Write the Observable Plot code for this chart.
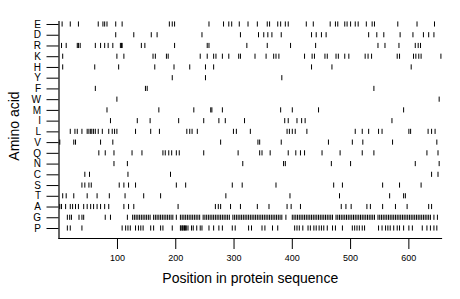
<!DOCTYPE html>
<html>
<head>
<meta charset="utf-8">
<script src="https://cdn.jsdelivr.net/npm/d3@7"></script>
<script src="https://cdn.jsdelivr.net/npm/@observablehq/plot@0.6"></script>
<style>
  html, body { margin: 0; padding: 0; background: #fff; overflow: hidden; }
  #chart { width: 460px; height: 299px; }
</style>
</head>
<body>
<div id="chart"></div>
<script>
// Categories (top to bottom)
const aminoAcids = ["E","D","R","K","H","Y","F","W","M","I","L","V","Q","N","C","S","T","A","G","P"];
const xTicks = [100, 200, 300, 400, 500, 600];
const seqLength = 656;

// Positions of each amino acid in the protein sequence
const posE = [5,19,33,67,75,78,82,97,108,189,194,198,257,282,291,296,309,324,340,357,361,375,380,388,393,424,436,465,474,478,490,494,500,508,513,527,537,541,581,614,644];
const posD = [97,128,158,168,245,311,342,351,358,365,381,433,441,450,458,531,545,557,585,607,625,634,643];
const posR = [4,12,31,33,36,62,71,78,84,92,105,107,108,141,147,198,254,257,322,357,397,440,547,559,583,611,616,620];
const posK = [6,99,111,161,165,184,187,242,254,265,269,280,291,308,311,336,355,368,372,377,421,434,438,456,460,475,479,490,497,525,530,536,580,584,608,612,617,621,655];
const posH = [6,61,102,164,197,224,251,265,433,468,604];
const posY = [194,251,382];
const posF = [62,148,151,540];
const posW = [99,652];
const posM = [82,171,231,260,262,280,380,400,445,591];
const posI = [88,134,156,205,248,274,285,318,387,393,408,416,422,571];
const posL = [19,27,31,39,48,51,54,56,59,62,67,74,85,91,95,99,131,157,172,219,224,228,237,299,304,328,391,395,400,405,425,508,520,531,548,554,600,603,633,639,645];
const posV = [1,25,28,71,92,277,341,344,381,462,503,521,572,648];
const posQ = [68,79,94,125,142,178,182,188,193,201,206,248,307,344,348,362,393,406,414,421,451,482,520,540,631,650];
const posN = [94,117,315,385,388,467,500,611,652];
const posC = [44,52,118,191,639,650];
const posS = [39,44,51,55,103,111,119,131,201,217,297,314,372,471,486,555,584,621];
const posT = [6,12,25,48,65,86,113,145,174,286,396,481,567,591,594];
const posA = [1,4,11,19,23,28,33,42,48,54,59,65,71,78,85,111,119,128,204,268,273,277,294,311,340,360,391,398,414,484,492,501,528,534,555,577,597,634,639];
const posG = [14,18,21,34,39,42,79,88,117,
  126,129,132,135,138,141,144,147,150,153,156,162,165,168,171,174,177,180,183,186,189,192,195,
  201,
  208,211,214,217,220,223,226,229,232,235,238,241,247,250,253,256,259,262,265,268,271,274,277,280,283,286,289,292,298,301,304,307,310,313,316,319,322,325,328,331,334,337,340,343,346,349,352,355,358,361,364,367,370,373,376,379,382,
  389,
  400,403,406,409,412,415,418,421,424,427,430,433,436,439,442,445,448,451,454,457,460,463,466,469,475,478,481,484,487,490,493,496,499,502,505,508,511,514,517,520,523,526,529,532,535,538,541,547,550,553,556,559,562,565,568,571,574,577,580,583,586,589,592,595,598,601,604,607,610,613,616,619,622,625,628,631,634,637,
  643,649];
const posP = [14,19,39,108,114,118,122,131,136,140,144,157,162,174,178,194,208,209,211,212,214,215,217,218,221,227,230,236,242,245,257,265,274,280,297,302,325,330,348,353,366,375,404,408,412,418,427,431,437,441,446,450,454,460,469,474,486,503,507,511,515,520,524,548,554,560,564,568,574,580,584,591,600,606,623,631,637,643,648];

const positions = {E: posE, D: posD, R: posR, K: posK, H: posH, Y: posY, F: posF, W: posW, M: posM, I: posI,
  L: posL, V: posV, Q: posQ, N: posN, C: posC, S: posS, T: posT, A: posA, G: posG, P: posP};

const rows = aminoAcids.flatMap(aa => positions[aa].map(pos => ({aa, pos})));

const chart = Plot.plot({
  width: 460,
  height: 299,
  marginLeft: 58.5,
  marginRight: 19,
  marginTop: 21,
  marginBottom: 61,
  style: {fontFamily: "'Liberation Sans', Arial, Helvetica, sans-serif", background: "white", color: "black", overflow: "visible"},
  x: {domain: [0, seqLength], range: [58.7, 441]},
  y: {type: "band", domain: aminoAcids, range: [18.63, 233.37], padding: 0, round: false},
  marks: [
    Plot.frame({anchor: "left", stroke: "black", strokeWidth: 1.2}),
    Plot.frame({anchor: "bottom", stroke: "black", strokeWidth: 1.2}),
    Plot.tickX(rows, {x: "pos", y: "aa", stroke: "black", strokeWidth: 1, insetTop: 2.8, insetBottom: 2.8}),
    Plot.axisY({tickSize: 12, tickPadding: 6, fontSize: 10, label: null}),
    Plot.axisX({ticks: xTicks, tickSize: 11, tickPadding: 5, fontSize: 9, label: null}),
    Plot.text(["Position in protein sequence"], {frameAnchor: "bottom", dy: 40, lineAnchor: "middle", fontSize: 14, fill: "black"}),
    Plot.text(["Amino acid"], {frameAnchor: "left", dx: -44, dy: -4, rotate: -90, textAnchor: "middle", lineAnchor: "middle", fontSize: 14, fill: "black"})
  ]
});

document.getElementById("chart").appendChild(chart);
</script>
</body>
</html>
